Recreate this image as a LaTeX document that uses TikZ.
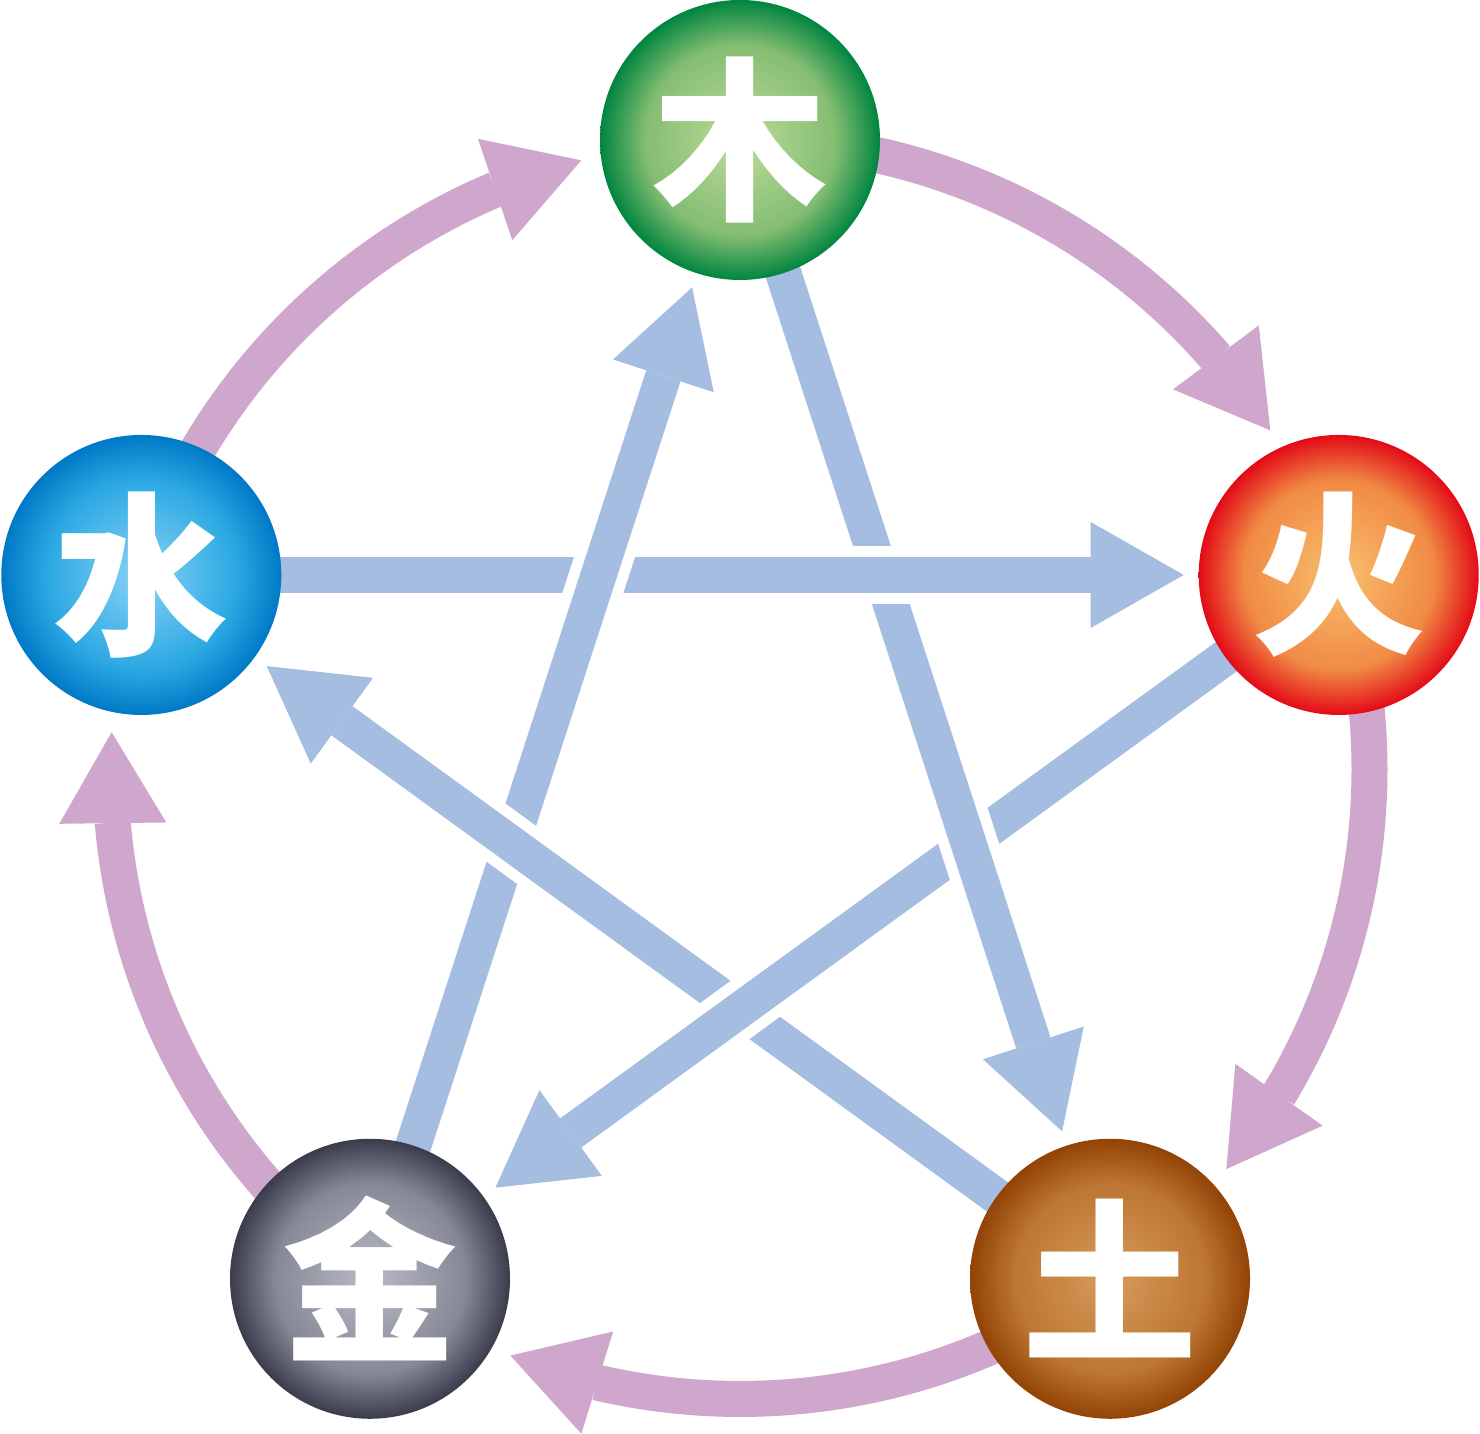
\documentclass[tikz,border=0pt]{standalone}
\usepackage{fontspec}
\newfontfamily\cjkfont{Noto Sans CJK SC}
\usetikzlibrary{arrows.meta,bending,calc}
\definecolor{arcpurple}{RGB}{207,167,205}
\definecolor{starblue}{RGB}{164,189,225}
\definecolor{muC}{HTML}{BEDC9A}\definecolor{muM}{HTML}{84BD72}\definecolor{muE}{HTML}{00853F}
\definecolor{huoC}{HTML}{F9C06F}\definecolor{huoM}{HTML}{F08A44}\definecolor{huoE}{HTML}{E30A17}
\definecolor{tuC}{HTML}{D89B5C}\definecolor{tuM}{HTML}{BD7633}\definecolor{tuE}{HTML}{924305}
\definecolor{jinC}{HTML}{B9BBC7}\definecolor{jinM}{HTML}{868897}\definecolor{jinE}{HTML}{3B3C4B}
\definecolor{shuiC}{HTML}{8AD3F6}\definecolor{shuiM}{HTML}{2BA8E2}\definecolor{shuiE}{HTML}{0079C6}
\pgfdeclareradialshading{mushade}{\pgfpoint{0bp}{0bp}}{color(0bp)=(muC); color(17bp)=(muM); color(25bp)=(muE); color(50bp)=(muE)}
\pgfdeclareradialshading{huoshade}{\pgfpoint{0bp}{0bp}}{color(0bp)=(huoC); color(17bp)=(huoM); color(25bp)=(huoE); color(50bp)=(huoE)}
\pgfdeclareradialshading{tushade}{\pgfpoint{0bp}{0bp}}{color(0bp)=(tuC); color(17bp)=(tuM); color(25bp)=(tuE); color(50bp)=(tuE)}
\pgfdeclareradialshading{jinshade}{\pgfpoint{0bp}{0bp}}{color(0bp)=(jinC); color(17bp)=(jinM); color(25bp)=(jinE); color(50bp)=(jinE)}
\pgfdeclareradialshading{shuishade}{\pgfpoint{0bp}{0bp}}{color(0bp)=(shuiC); color(17bp)=(shuiM); color(25bp)=(shuiE); color(50bp)=(shuiE)}
\pgfdeclarelayer{background}
\pgfsetlayers{background,main}
\begin{document}
\begin{tikzpicture}[x=1pt,y=1pt,
  ball/.style={circle,minimum size=280pt,inner sep=0pt,outer sep=0pt,text=white,
    font=\cjkfont\bfseries\fontsize{175pt}{175pt}\selectfont},
  genarrow/.style={draw=arcpurple,line width=36pt,
    -{Triangle[length=91pt,width=107pt,line width=0pt,flex]}},
  ctrlarrow/.style={draw=starblue,line width=36pt,shorten >=15pt,
    -{Triangle[length=93pt,width=106pt,line width=0pt]}},
  casing/.style={draw=white,line width=58pt},
  overpass/.style={draw=starblue,line width=36pt}]
\useasboundingbox (0,0) rectangle (1480,1434);
\coordinate (O) at (740,664.5);
\node[ball,shade,shading=mushade]   (mu)   at ($(O)+(90:629.5pt)$)   {木};
\node[ball,shade,shading=huoshade]  (huo)  at ($(O)+(18:629.5pt)$)   {火};
\node[ball,shade,shading=tushade]   (tu)   at ($(O)+(-54:629.5pt)$)  {土};
\node[ball,shade,shading=jinshade]  (jin)  at ($(O)+(-126:629.5pt)$) {金};
\node[ball,shade,shading=shuishade] (shui) at ($(O)+(162:629.5pt)$)  {水};
\begin{pgfonlayer}{background}
  % generating cycle
  \draw[genarrow] (mu.center)   arc[start angle=90,   end angle=32.6,   radius=629.5pt];
  \draw[genarrow] (huo.center)  arc[start angle=18,   end angle=-39.4,  radius=629.5pt];
  \draw[genarrow] (tu.center)   arc[start angle=-54,  end angle=-111.4, radius=629.5pt];
  \draw[genarrow] (jin.center)  arc[start angle=-126, end angle=-183.4, radius=629.5pt];
  \draw[genarrow] (shui.center) arc[start angle=162,  end angle=104.6,  radius=629.5pt];
  % controlling star
  \draw[ctrlarrow] (shui.center) -- (huo);
  \draw[ctrlarrow] (mu.center) -- (tu);
  \draw[ctrlarrow] (huo.center) -- (jin);
  \draw[ctrlarrow] (tu.center) -- (shui);
  \draw[ctrlarrow] (jin.center) -- (mu);
  % over-crossings
  \foreach \a/\b in {shui/huo, mu/tu, huo/jin, tu/shui, jin/mu} {
    \coordinate (X) at ($(\a.center)!0.618034!(\b.center)$);
    \draw[casing] ($(X)!40pt!(\a.center)$) -- ($(X)!40pt!(\b.center)$);
    \draw[overpass] ($(X)!41pt!(\a.center)$) -- ($(X)!41pt!(\b.center)$);
  }
\end{pgfonlayer}
\end{tikzpicture}
\end{document}
